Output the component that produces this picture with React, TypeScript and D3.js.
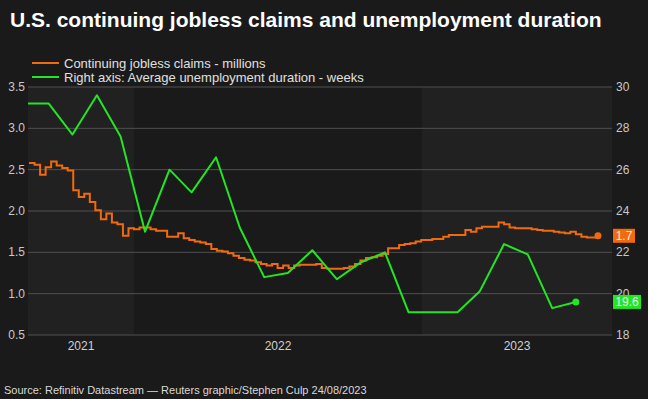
import React from "react";
import * as d3 from "d3";

const TITLE = "U.S. continuing jobless claims and unemployment duration";
const LEGEND_CLAIMS = "Continuing jobless claims - millions";
const LEGEND_DURATION = "Right axis: Average unemployment duration - weeks";
const SOURCE = "Source: Refinitiv Datastream \u2014 Reuters graphic/Stephen Culp 24/08/2023";

// weekly continuing claims (millions), weeks ending from 2021-08-21
const claimsStart = Date.UTC(2021, 7, 21);
const claimsValues = [
  2.58, 2.56, 2.44, 2.53, 2.6, 2.55, 2.52, 2.49, 2.25, 2.17,
  2.21, 2.11, 2.01, 1.9, 1.97, 1.86, 1.84, 1.7, 1.79, 1.78,
  1.8, 1.8, 1.78, 1.76, 1.76, 1.69, 1.69, 1.73, 1.67, 1.65,
  1.63, 1.62, 1.6, 1.54, 1.52, 1.51, 1.49, 1.46, 1.43, 1.41,
  1.4, 1.38, 1.36, 1.34, 1.36, 1.31, 1.34, 1.31, 1.34, 1.35,
  1.35, 1.35, 1.36, 1.31, 1.3, 1.3, 1.3, 1.31, 1.33, 1.36,
  1.4, 1.43, 1.44, 1.46, 1.48, 1.55, 1.55, 1.59, 1.6, 1.61,
  1.63, 1.65, 1.65, 1.66, 1.66, 1.69, 1.71, 1.71, 1.71, 1.77,
  1.75, 1.79, 1.81, 1.81, 1.81, 1.86, 1.84, 1.8, 1.79, 1.79,
  1.79, 1.78, 1.77, 1.76, 1.76, 1.75, 1.74, 1.73, 1.75, 1.72,
  1.69, 1.68, 1.68, 1.7,
];

// monthly average unemployment duration (weeks), Aug 2021 .. Jul 2023
const durationMonths = [
  "2021-08", "2021-09", "2021-10", "2021-11", "2021-12",
  "2022-01", "2022-02", "2022-03", "2022-04", "2022-05", "2022-06",
  "2022-07", "2022-08", "2022-09", "2022-10", "2022-11", "2022-12",
  "2023-01", "2023-02", "2023-03", "2023-04", "2023-05", "2023-06", "2023-07",
];
const durationValues = [
  29.2, 29.2, 27.7, 29.6, 27.6,
  23.0, 26.0, 24.9, 26.6, 23.2, 20.8,
  21.0, 22.1, 20.7, 21.5, 22.0, 19.1,
  19.1, 19.1, 20.1, 22.4, 21.9, 19.3, 19.6,
];

const leftTicks = [0.5, 1.0, 1.5, 2.0, 2.5, 3.0, 3.5];
const rightTicks = [18, 20, 22, 24, 26, 28, 30];
const yearLabels = ["2021", "2022", "2023"];

const W = 648;
const H = 399;
const plot = { left: 28, right: 612, top: 87, bottom: 335 };

const ORANGE = "#f26a0c";
const GREEN = "#22e622";
const FONT = "'Liberation Sans', Arial, Helvetica, sans-serif";

export default function App() {
  const x = d3
    .scaleUtc()
    .domain([new Date(Date.UTC(2021, 7, 19, 16)), new Date(Date.UTC(2023, 7, 29, 19))])
    .range([plot.left, plot.right]);
  const yL = d3.scaleLinear().domain([0.5, 3.5]).range([plot.bottom, plot.top]);
  const yR = d3.scaleLinear().domain([18, 30]).range([plot.bottom, plot.top]);

  const claims = claimsValues.map((v, i) => ({
    date: new Date(claimsStart + i * 7 * 86400000),
    v,
  }));
  const duration = durationMonths.map((m, i) => {
    const [yy, mm] = m.split("-").map(Number);
    return { date: new Date(Date.UTC(yy, mm - 1, 15)), v: durationValues[i] };
  });

  const claimsLine = d3
    .line<{ date: Date; v: number }>()
    .x((d) => x(d.date))
    .y((d) => yL(d.v))
    .curve(d3.curveStepAfter);
  const durLine = d3
    .line<{ date: Date; v: number }>()
    .x((d) => x(d.date))
    .y((d) => yR(d.v));

  const years = yearLabels.map((y) => {
    const yr = Number(y);
    const s = Math.max(x(new Date(Date.UTC(yr, 0, 1))), plot.left);
    const e = Math.min(x(new Date(Date.UTC(yr + 1, 0, 1))), plot.right);
    return { label: y, s, e, shade: yr % 2 === 1 };
  });

  const lastC = claims[claims.length - 1];
  const lastD = duration[duration.length - 1];

  return (
    <div style={{ position: "fixed", left: 0, top: 0, width: W, height: H }}>
      <svg width={W} height={H} style={{ display: "block", fontFamily: FONT }}>
        <defs>
          <clipPath id="plotclip">
            <rect x={plot.left} y={plot.top - 10} width={plot.right - plot.left} height={plot.bottom - plot.top + 20} />
          </clipPath>
        </defs>
        <rect x={0} y={0} width={W} height={H} fill="#1a1a1a" />
        {years.map((y) =>
          y.shade ? (
            <rect key={"b" + y.label} x={y.s} y={plot.top} width={y.e - y.s} height={plot.bottom - plot.top} fill="#212121" />
          ) : null
        )}
        {leftTicks.map((t) => (
          <line key={"g" + t} x1={plot.left} x2={plot.right} y1={yL(t)} y2={yL(t)} stroke="#505050" strokeWidth={1} />
        ))}
        {leftTicks.map((t) => (
          <text key={"l" + t} x={25} y={yL(t) + 4} fill="#c8c8c8" fontSize={12} textAnchor="end">
            {t.toFixed(1)}
          </text>
        ))}
        {rightTicks.map((t) => (
          <text key={"r" + t} x={616} y={yR(t) + 4} fill="#c8c8c8" fontSize={12} textAnchor="start">
            {t}
          </text>
        ))}
        {years.map((y) => (
          <text key={"y" + y.label} x={(y.s + y.e) / 2} y={350} fill="#d0d0d0" fontSize={12} textAnchor="middle">
            {y.label}
          </text>
        ))}
        <g clipPath="url(#plotclip)">
          <path d={claimsLine(claims) || ""} fill="none" stroke={ORANGE} strokeWidth={2} />
          <path d={durLine(duration) || ""} fill="none" stroke={GREEN} strokeWidth={2} strokeLinejoin="round" />
        </g>
        <circle cx={x(lastC.date)} cy={yL(lastC.v)} r={3.5} fill={ORANGE} />
        <circle cx={x(lastD.date)} cy={yR(lastD.v)} r={3.5} fill={GREEN} />
        <rect x={613} y={yL(lastC.v) - 7} width={22} height={14} fill={ORANGE} />
        <text x={624} y={yL(lastC.v) + 4} fill="#f0f0f0" fontSize={12} textAnchor="middle">
          {lastC.v.toFixed(1)}
        </text>
        <rect x={613} y={yR(lastD.v) - 7} width={28} height={14} fill={GREEN} />
        <text x={627} y={yR(lastD.v) + 4} fill="#f0f0f0" fontSize={12} textAnchor="middle">
          {lastD.v.toFixed(1)}
        </text>
        <text x={10} y={27} fill="#ffffff" fontSize={21} fontWeight="bold">
          {TITLE}
        </text>
        <line x1={32} x2={59} y1={63} y2={63} stroke={ORANGE} strokeWidth={2} />
        <text x={64} y={67.5} fill="#e0e0e0" fontSize={13}>
          {LEGEND_CLAIMS}
        </text>
        <line x1={32} x2={59} y1={77} y2={77} stroke={GREEN} strokeWidth={2} />
        <text x={64} y={81.5} fill="#e0e0e0" fontSize={13}>
          {LEGEND_DURATION}
        </text>
        <text x={4} y={394} fill="#d8d8d8" fontSize={11}>
          {SOURCE}
        </text>
      </svg>
    </div>
  );
}
